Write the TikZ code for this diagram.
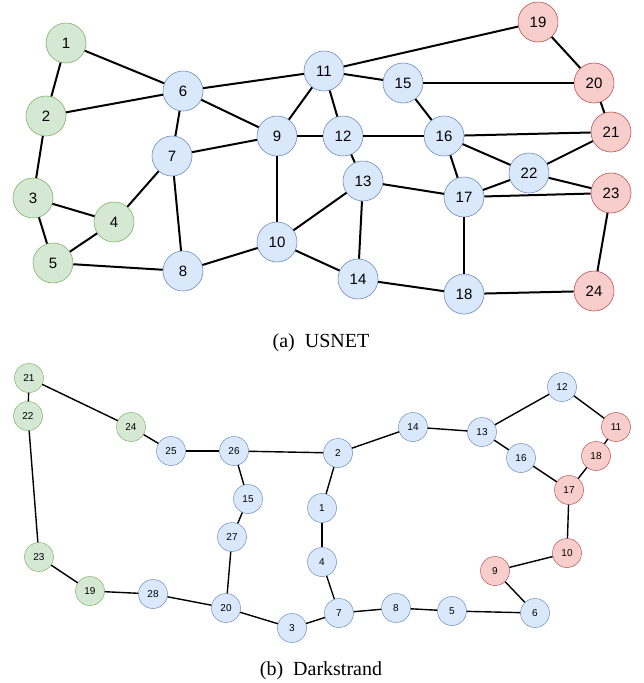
\documentclass[tikz,border=0pt]{standalone}
\usepackage{fontspec}
\setmainfont{Liberation Serif}
\newfontfamily\lblfont{Liberation Sans}
\begin{document}
\begin{tikzpicture}[x=1pt,y=-1pt,
  big/.style={circle,minimum size=40pt,inner sep=0pt,line width=0.6pt,font=\lblfont\fontsize{15}{15}\selectfont},
  small/.style={circle,minimum size=29pt,inner sep=0pt,line width=0.5pt,font=\lblfont\fontsize{10}{10}\selectfont},
  gn/.style={fill={rgb,255:red,213;green,232;blue,212},draw={rgb,255:red,130;green,179;blue,102}},
  bl/.style={fill={rgb,255:red,218;green,232;blue,252},draw={rgb,255:red,108;green,142;blue,191}},
  rd/.style={fill={rgb,255:red,248;green,206;blue,204},draw={rgb,255:red,184;green,84;blue,80}},
  bedge/.style={line width=2pt,black},
  sedge/.style={line width=1.4pt,black},
  captxt/.style={font=\fontsize{20}{20}\selectfont,anchor=base,inner sep=0pt}]
\useasboundingbox (0,0) rectangle (644,683);
% ---------- USNET ----------
\node[big,gn] (a1) at (66,43) {1};
\node[big,gn] (a2) at (46,116) {2};
\node[big,gn] (a3) at (33,198) {3};
\node[big,gn] (a4) at (114,222) {4};
\node[big,gn] (a5) at (53,263) {5};
\node[big,bl] (a6) at (183,91) {6};
\node[big,bl] (a7) at (172,156) {7};
\node[big,bl] (a8) at (183,271) {8};
\node[big,bl] (a9) at (277,136) {9};
\node[big,bl] (a10) at (277,242) {10};
\node[big,bl] (a11) at (324,71) {11};
\node[big,bl] (a12) at (343,136) {12};
\node[big,bl] (a13) at (363,181) {13};
\node[big,bl] (a14) at (358,279) {14};
\node[big,bl] (a15) at (403,83) {15};
\node[big,bl] (a16) at (444,136) {16};
\node[big,bl] (a17) at (464,197) {17};
\node[big,bl] (a18) at (464,294) {18};
\node[big,rd] (a19) at (538,22) {19};
\node[big,rd] (a20) at (594,83) {20};
\node[big,rd] (a21) at (611,132) {21};
\node[big,bl] (a22) at (529,173) {22};
\node[big,rd] (a23) at (611,193) {23};
\node[big,rd] (a24) at (594,291) {24};
\begin{scope}[bedge]
\foreach \u/\v in {1/2,1/6,2/6,2/3,3/4,3/5,4/5,4/7,5/8,6/7,6/9,6/11,7/9,7/8,8/10,9/10,9/11,9/12,10/13,10/14,11/19,11/15,11/12,12/16,12/13,13/17,13/14,14/18,15/20,15/16,16/21,16/22,16/17,17/22,17/23,17/18,18/24,19/20,20/21,21/22,22/23,23/24}
  \draw (a\u) -- (a\v);
\end{scope}
\node[captxt] (capa) at (321,347) {(a)\ \ USNET};
% ---------- Darkstrand ----------
\node[small,gn] (b21) at (29,378) {21};
\node[small,gn] (b22) at (28,416) {22};
\node[small,gn] (b24) at (131,427) {24};
\node[small,bl] (b25) at (171,451) {25};
\node[small,bl] (b26) at (234,451) {26};
\node[small,bl] (b2) at (338,453) {2};
\node[small,bl] (b15) at (248,499) {15};
\node[small,bl] (b1) at (322,508) {1};
\node[small,bl] (b27) at (232,537) {27};
\node[small,bl] (b4) at (322,562) {4};
\node[small,gn] (b23) at (39,557) {23};
\node[small,gn] (b19) at (90,591) {19};
\node[small,bl] (b28) at (153,594) {28};
\node[small,bl] (b20) at (226,608) {20};
\node[small,bl] (b3) at (292,628) {3};
\node[small,bl] (b7) at (339,613) {7};
\node[small,bl] (b12) at (562,387) {12};
\node[small,bl] (b14) at (413,427) {14};
\node[small,bl] (b13) at (482,432) {13};
\node[small,rd] (b11) at (616,427) {11};
\node[small,rd] (b18) at (596,456) {18};
\node[small,bl] (b16) at (521,458) {16};
\node[small,rd] (b17) at (569,490) {17};
\node[small,rd] (b10) at (567,553) {10};
\node[small,rd] (b9) at (495,571) {9};
\node[small,bl] (b6) at (535,613) {6};
\node[small,bl] (b5) at (452,611) {5};
\node[small,bl] (b8) at (396,608) {8};
\begin{scope}[sedge]
\foreach \u/\v in {21/22,21/24,22/23,23/19,19/28,28/20,20/27,27/15,15/26,24/25,25/26,26/2,2/1,1/4,4/7,20/3,3/7,7/8,8/5,5/6,6/9,9/10,10/17,17/18,18/11,11/12,12/13,13/14,14/2,13/16,16/17}
  \draw (b\u) -- (b\v);
\end{scope}
\node[captxt] (capb) at (321,675) {(b)\ \ Darkstrand};
\end{tikzpicture}
\end{document}
